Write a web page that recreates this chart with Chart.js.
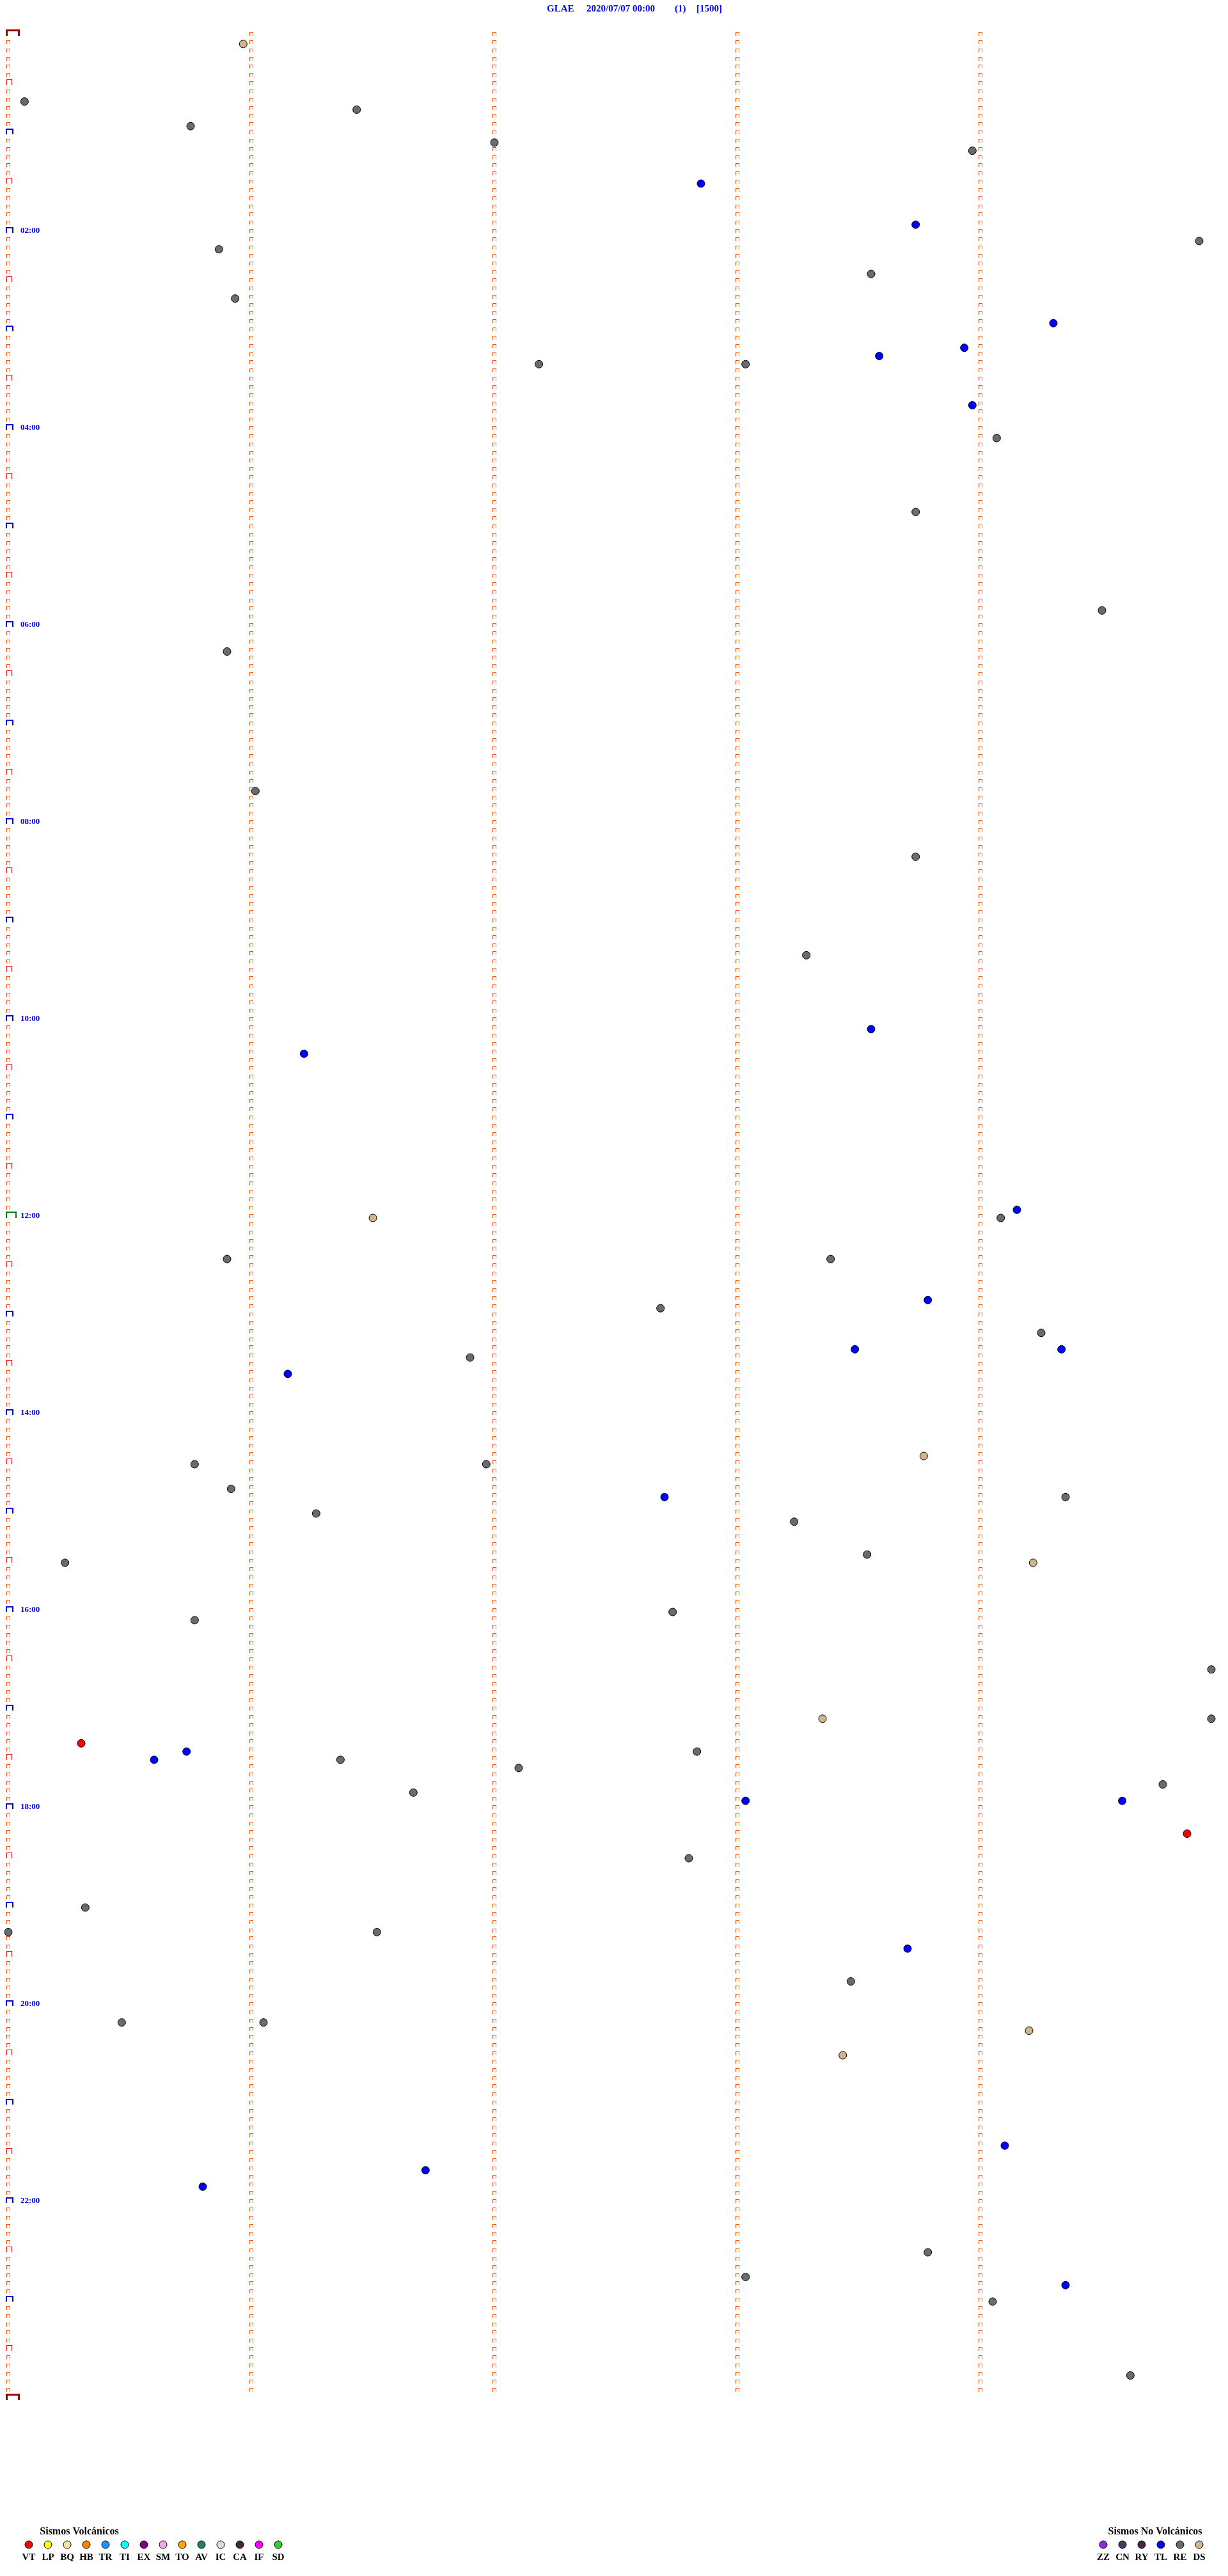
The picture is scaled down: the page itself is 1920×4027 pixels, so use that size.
<!DOCTYPE html>
<html>
<head>
<meta charset="utf-8">
<title>GLAE 2020/07/07</title>
<script src="https://cdn.jsdelivr.net/npm/chart.js@4.4.1/dist/chart.umd.min.js"></script>
<style>
  html, body { margin: 0; padding: 0; background: #fff; overflow: hidden; }
  canvas { display: block; }
</style>
</head>
<body>
<canvas id="heli" width="1920" height="4027"></canvas>
<script>
// --- data ---
const titleParts = ['GLAE', '2020/07/07 00:00', '(1)', '[1500]'];
const hourLabels = ['02:00', '04:00', '06:00', '08:00', '10:00', '12:00', '14:00', '16:00', '18:00', '20:00', '22:00'];

// event times (HH:MM:SS) per class
const vtTimes = ['17:20:18', '18:19:51'];
const tlTimes = ['01:32:51', '01:58:44', '02:59:18', '03:13:56', '03:18:35', '03:48:58', '10:08:33', '10:21:13',
  '11:59:09', '12:53:47', '13:23:29', '13:24:20', '13:36:09', '14:52:42', '17:25:44', '17:30:36', '17:58:02',
  '17:59:35', '19:28:42', '21:29:06', '21:41:43', '21:50:48', '22:54:21'];
const reTimes = ['00:40:04', '00:46:26', '00:55:45', '01:07:00', '01:13:58', '02:09:54', '02:10:52', '02:28:33',
  '02:40:56', '03:22:11', '03:23:02', '04:09:04', '04:53:44', '05:54:30', '06:15:54', '07:41:01', '08:23:44',
  '09:23:17', '12:04:05', '12:25:54', '12:28:23', '12:57:41', '13:14:15', '13:26:54', '14:30:46', '14:31:58',
  '14:45:55', '14:54:21', '15:01:16', '15:08:14', '15:28:32', '15:30:14', '16:02:44', '16:05:46', '16:39:57',
  '17:09:57', '17:27:50', '17:31:22', '17:37:06', '17:49:45', '17:51:40', '18:32:48', '19:00:19', '19:15:00',
  '19:16:31', '19:48:28', '20:10:28', '20:11:03', '22:33:47', '22:48:02', '23:04:03', '23:49:37'];
const dsTimes = ['00:05:58', '12:01:30', '14:28:46', '15:34:13', '17:08:21', '20:19:12', '20:33:26'];

const volcTypes = ['VT', 'LP', 'BQ', 'HB', 'TR', 'TI', 'EX', 'SM', 'TO', 'AV', 'IC', 'CA', 'IF', 'SD'];
const volcColors = ['#ff0000', '#ffff00', '#f2e6a6', '#ff8000', '#1e90ff', '#00ffff', '#800080', '#eeaaee',
  '#ffa500', '#1f8060', '#dcdcdc', '#4a2442', '#ff00ff', '#33cc33'];
const noVolcTypes = ['ZZ', 'CN', 'RY', 'TL', 'RE', 'DS'];
const noVolcColors = ['#8a2be2', '#4a3a5c', '#4a2448', '#0000ff', '#6b6b6b', '#d2b48c'];

// --- layout of the drum ---
const W = 1920, H = 4027;
const ROW_MIN = 5;          // each trace line = 5 minutes
const ROWS = 288;           // 24 h
const TOP_PX = 56;          // baseline of row 0
const ROW_PX = (3752 - 56) / ROWS;
const X0_PX = 13;           // minute 0
const MIN_PX = 380;         // pixels per minute

function toPoint(t) {
  const p = t.split(':').map(Number);
  const sec = p[0] * 3600 + p[1] * 60 + p[2];
  const row = Math.floor(sec / (ROW_MIN * 60));
  return { x: (sec - row * ROW_MIN * 60) / 60, y: row };
}

// little "⊓" marks, anchored at the trace baseline
function markImage(w, h, lw, color, left) {
  const half = Math.max(left, w - left) + 2;
  const c = document.createElement('canvas');
  c.width = half * 2;
  c.height = (h + 2) * 2;
  const ctx = c.getContext('2d');
  const ax = half, ay = h + 2;
  const x0 = ax - left;
  ctx.fillStyle = color;
  ctx.fillRect(x0, ay - h, lw, h);
  ctx.fillRect(x0, ay - h, w, lw);
  ctx.fillRect(x0 + w - lw, ay - h, lw, h);
  return c;
}

const smallMark = markImage(6, 6, 1, '#ff4a00', 3);
const halfHourMark = markImage(9, 9, 1, '#ff0000', 3);
const hourMark = markImage(12, 9, 2, '#0000ff', 4);
const noonMark = markImage(17, 10, 2, '#008000', 4);
const dayMark = markImage(22, 10, 3, '#990000', 4);

const minuteTicks = [], leftSmall = [], leftHalf = [], leftHour = [], leftNoon = [], leftDay = [];
for (let r = 0; r <= ROWS; r++) {
  if (r < ROWS) for (let m = 1; m < ROW_MIN; m++) minuteTicks.push({ x: m, y: r });
  const p = { x: 0, y: r };
  if (r === 0 || r === ROWS) leftDay.push(p);
  else if (r === ROWS / 2) leftNoon.push(p);
  else if (r % 12 === 0) leftHour.push(p);
  else if (r % 6 === 0) leftHalf.push(p);
  else leftSmall.push(p);
}

function eventSet(label, times, color) {
  return {
    label, data: times.map(toPoint), order: 0,
    pointRadius: 6, pointBackgroundColor: color, pointBorderColor: '#000', pointBorderWidth: 1
  };
}
function markSet(label, data, img) {
  return { label, data, order: 1, pointStyle: img, pointRadius: 4 };
}

const textPlugin = {
  id: 'heliText',
  beforeDatasetsDraw(chart) {
    // keep the little marks crisp
    chart.ctx.imageSmoothingEnabled = false;
  },
  afterDraw(chart) {
    const ctx = chart.ctx;
    const ys = chart.scales.y;
    ctx.save();
    // title
    ctx.fillStyle = '#0000ff';
    ctx.font = 'bold 15px "Liberation Serif", serif';
    ctx.textBaseline = 'alphabetic';
    ctx.textAlign = 'left';
    const tx = [855, 917, 1055, 1089];
    titleParts.forEach((s, i) => ctx.fillText(s, tx[i], 18));
    // hour labels
    ctx.font = 'bold 13px "Liberation Serif", serif';
    hourLabels.forEach((s, i) => ctx.fillText(s, 32, ys.getPixelForValue((i + 1) * 24)));
    // legends
    function legend(title, cx, x0, types, colors) {
      ctx.fillStyle = '#000';
      ctx.textAlign = 'center';
      ctx.font = 'bold 16px "Liberation Serif", serif';
      ctx.fillText(title, cx, 3962);
      ctx.font = 'bold 15px "Liberation Serif", serif';
      types.forEach((t, i) => {
        const x = x0 + 30 * i;
        ctx.beginPath();
        ctx.arc(x, 3978, 6, 0, Math.PI * 2);
        ctx.fillStyle = colors[i];
        ctx.fill();
        ctx.strokeStyle = '#000';
        ctx.lineWidth = 1;
        ctx.stroke();
        ctx.fillStyle = '#000';
        ctx.fillText(t, x, 4002);
      });
    }
    legend('Sismos Volcánicos', 124, 45, volcTypes, volcColors);
    legend('Sismos No Volcánicos', 1806, 1725, noVolcTypes, noVolcColors);
    ctx.restore();
  }
};

new Chart(document.getElementById('heli'), {
  type: 'scatter',
  data: {
    datasets: [
      eventSet('VT', vtTimes, '#ff0000'),
      eventSet('TL', tlTimes, '#0000ff'),
      eventSet('RE', reTimes, '#6b6b6b'),
      eventSet('DS', dsTimes, '#d2b48c'),
      markSet('min', minuteTicks, smallMark),
      markSet('5min', leftSmall, smallMark),
      markSet('30min', leftHalf, halfHourMark),
      markSet('hour', leftHour, hourMark),
      markSet('noon', leftNoon, noonMark),
      markSet('day', leftDay, dayMark)
    ]
  },
  options: {
    responsive: false,
    devicePixelRatio: 1,
    animation: false,
    events: [],
    layout: { padding: 0, autoPadding: false },
    plugins: { legend: { display: false }, title: { display: false }, tooltip: { enabled: false } },
    scales: {
      x: { type: 'linear', display: false, min: -X0_PX / MIN_PX, max: (W - X0_PX) / MIN_PX },
      y: { type: 'linear', display: false, reverse: true, min: -TOP_PX / ROW_PX, max: (H - TOP_PX) / ROW_PX }
    }
  },
  plugins: [textPlugin]
});
</script>
</body>
</html>
